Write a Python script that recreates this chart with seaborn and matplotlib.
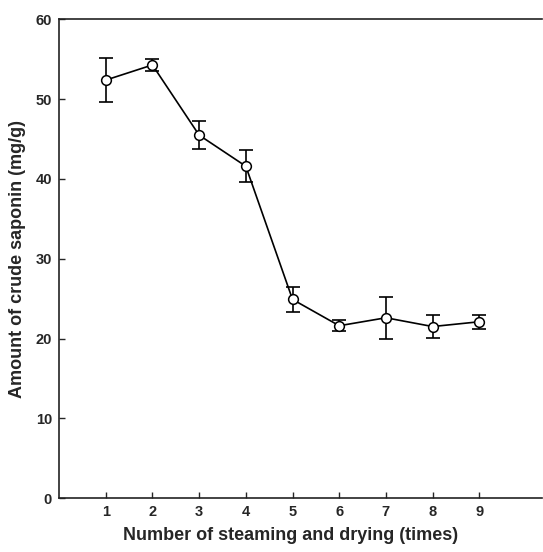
import matplotlib
matplotlib.use("Agg")
import matplotlib.pyplot as plt
import seaborn as sns
import pandas as pd

times = [1, 2, 3, 4, 5, 6, 7, 8, 9]
saponin = [52.4, 54.3, 45.5, 41.6, 24.9, 21.6, 22.6, 21.5, 22.1]
sd = [2.8, 0.7, 1.8, 2.0, 1.6, 0.7, 2.6, 1.4, 0.9]

df = pd.DataFrame({"times": times, "saponin": saponin, "sd": sd})

sns.set_style("ticks")
plt.rcParams['font.family'] = ['Liberation Sans', 'DejaVu Sans']

fig = plt.figure(figsize=(5.43, 5.52), dpi=100)
ax = fig.add_axes([0.1087, 0.0978, 0.8893, 0.8669])

ax.errorbar(df["times"], df["saponin"], yerr=df["sd"], fmt="none",
            ecolor="black", elinewidth=1.2, capsize=5, capthick=1.2, zorder=2)
sns.lineplot(data=df, x="times", y="saponin", ax=ax, color="black",
             linewidth=1.2, marker="o", markersize=7, markerfacecolor="white",
             markeredgecolor="black", markeredgewidth=1.1, zorder=3)

ax.set_xlim(0, 10.34)
ax.set_ylim(0, 60)
ax.set_xticks(times)
ax.set_yticks([0, 10, 20, 30, 40, 50, 60])
ax.tick_params(direction="in", length=4, width=1, labelsize=10.5, pad=5)
for lab in ax.get_xticklabels() + ax.get_yticklabels():
    lab.set_fontweight("bold")

ax.spines["right"].set_visible(False)
for s in ["left", "top", "bottom"]:
    ax.spines[s].set_linewidth(1.2)
    ax.spines[s].set_color("#222222")

ax.set_xlabel("Number of steaming and drying (times)", fontsize=13, fontweight="bold")
ax.set_ylabel("Amount of crude saponin (mg/g)", fontsize=13, fontweight="bold")
ax.xaxis.set_label_coords(0.479, -0.06)
ax.yaxis.set_label_coords(-0.068, 0.5)

fig.savefig("out.png", dpi=100)
